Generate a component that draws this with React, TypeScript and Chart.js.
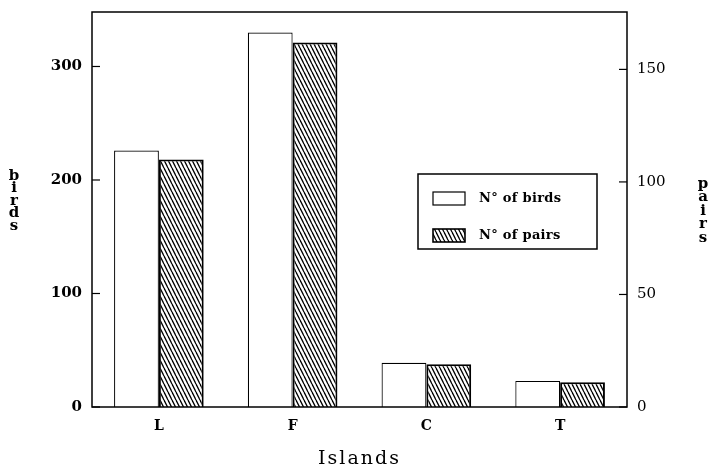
import React, { useEffect, useRef } from 'react';
import { Chart, registerables } from 'chart.js';

Chart.register(...registerables);

const islands = ['L', 'F', 'C', 'T'];
const birds = [226, 330, 39, 23];
const pairs = [110, 162, 19, 11];
const birdTicks = [0, 100, 200, 300];
const pairTicks = [0, 50, 100, 150];
const birdsMax = 348;
const pairsMax = 175.5;
const seriesLabels = ['N\u00B0 of birds', 'N\u00B0 of pairs'];
const xTitle = 'Islands';
const yTitle = 'birds';
const y1Title = 'pairs';

const SERIF = '"DejaVu Serif", serif';

function makeHatch(): CanvasPattern | string {
  const c = document.createElement('canvas');
  c.width = 4;
  c.height = 8;
  const g = c.getContext('2d');
  if (!g) return '#888';
  g.fillStyle = '#fff';
  g.fillRect(0, 0, 4, 8);
  g.strokeStyle = '#000';
  g.lineWidth = 1.3;
  for (const k of [-4, 0, 4]) {
    g.beginPath();
    g.moveTo(k, 0);
    g.lineTo(k + 4, 8);
    g.stroke();
  }
  return g.createPattern(c, 'repeat') || '#888';
}

const decorPlugin = {
  id: 'decor',
  afterDraw(chart: any) {
    const { ctx, chartArea, scales } = chart;
    const { left, right, top, bottom } = chartArea;
    ctx.save();
    ctx.strokeStyle = '#000';
    ctx.fillStyle = '#000';
    // frame
    ctx.lineWidth = 1.5;
    ctx.strokeRect(left, top, right - left, bottom - top);
    // inside ticks
    ctx.lineWidth = 1.2;
    for (const v of birdTicks) {
      const y = scales.y.getPixelForValue(v);
      ctx.beginPath();
      ctx.moveTo(left, y);
      ctx.lineTo(left + 8, y);
      ctx.stroke();
    }
    for (const v of pairTicks) {
      const y = scales.y1.getPixelForValue(v);
      ctx.beginPath();
      ctx.moveTo(right - 8, y);
      ctx.lineTo(right, y);
      ctx.stroke();
    }
    // vertical stacked titles
    ctx.font = `bold 15px ${SERIF}`;
    ctx.textAlign = 'center';
    ctx.textBaseline = 'middle';
    yTitle.split('').forEach((ch, i) => ctx.fillText(ch, 14, 176 + i * 12.5));
    y1Title.split('').forEach((ch, i) => ctx.fillText(ch, 703, 184 + i * 13.5));
    // x title
    ctx.font = `19px ${SERIF}`;
    (ctx as any).letterSpacing = '2px';
    ctx.fillText(xTitle, (left + right) / 2, 459);
    (ctx as any).letterSpacing = '0px';
    // legend
    const lx = 418, ly = 174, lw = 179, lh = 75;
    ctx.lineWidth = 1.5;
    ctx.fillStyle = '#fff';
    ctx.fillRect(lx, ly, lw, lh);
    ctx.strokeRect(lx, ly, lw, lh);
    const ds = chart.data.datasets;
    const rows = [199, 236];
    rows.forEach((cy: number, i: number) => {
      ctx.fillStyle = ds[i].backgroundColor;
      ctx.fillRect(433, cy - 7, 32, 13);
      ctx.lineWidth = i === 0 ? 1.2 : 1.6;
      ctx.strokeRect(433, cy - 7, 32, 13);
      ctx.fillStyle = '#000';
      ctx.font = `bold 13px ${SERIF}`;
      (ctx as any).letterSpacing = '0.3px';
      ctx.textAlign = 'left';
      ctx.fillText(seriesLabels[i], 479, cy);
      (ctx as any).letterSpacing = '0px';
    });
    ctx.restore();
  },
};

export default function App() {
  const ref = useRef<HTMLCanvasElement | null>(null);
  useEffect(() => {
    if (!ref.current) return;
    const hatch = makeHatch();
    const chart = new Chart(ref.current, {
      type: 'bar',
      data: {
        labels: islands,
        datasets: [
          {
            label: seriesLabels[0],
            data: birds,
            yAxisID: 'y',
            backgroundColor: '#fff',
            borderColor: '#000',
            borderWidth: 1.2,
            categoryPercentage: 0.67,
            barPercentage: 1,
          },
          {
            label: seriesLabels[1],
            data: pairs,
            yAxisID: 'y1',
            backgroundColor: hatch as any,
            borderColor: '#000',
            borderWidth: 2,
            categoryPercentage: 0.67,
            barPercentage: 1,
          },
        ],
      },
      options: {
        responsive: false,
        animation: false,
        layout: { padding: { top: 12, left: 0, right: 0, bottom: 0 } },
        plugins: {
          legend: { display: false },
          tooltip: { enabled: false },
        },
        scales: {
          x: {
            grid: { display: false, drawTicks: false },
            border: { display: false },
            ticks: {
              color: '#000',
              padding: 11,
              font: { family: SERIF, size: 14, weight: 'bold' },
            },
            afterFit: (s: any) => {
              s.height = 61;
              s.paddingLeft = 0;
              s.paddingRight = 0;
            },
          },
          y: {
            position: 'left',
            min: 0,
            max: birdsMax,
            grid: { display: false, drawTicks: false },
            border: { display: false },
            ticks: {
              stepSize: 100,
              includeBounds: false,
              color: '#000',
              padding: 10,
              font: { family: SERIF, size: 15, weight: 'bold' },
            },
            afterFit: (s: any) => {
              s.width = 92;
              s.paddingTop = 0;
              s.paddingBottom = 0;
            },
          },
          y1: {
            position: 'right',
            min: 0,
            max: pairsMax,
            grid: { display: false, drawTicks: false },
            border: { display: false },
            ticks: {
              stepSize: 50,
              includeBounds: false,
              color: '#000',
              padding: 10,
              font: { family: SERIF, size: 15 },
            },
            afterFit: (s: any) => {
              s.width = 84;
              s.paddingTop = 0;
              s.paddingBottom = 0;
            },
          },
        },
      } as any,
      plugins: [decorPlugin],
    });
    return () => chart.destroy();
  }, []);
  return (
    <div style={{ position: 'fixed', left: 0, top: 0, width: 711, height: 468, background: '#fff' }}>
      <canvas ref={ref} width={711} height={468} style={{ display: 'block' }} />
    </div>
  );
}
